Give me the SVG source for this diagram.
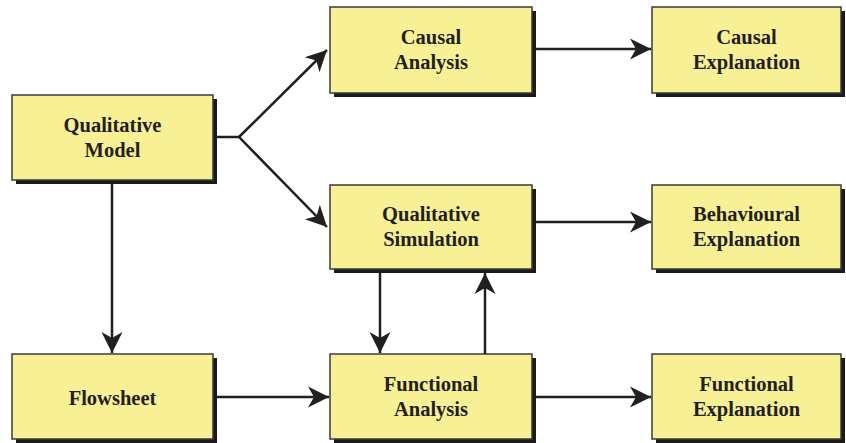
<svg xmlns="http://www.w3.org/2000/svg" width="846" height="443" viewBox="0 0 846 443">
<style>
.box{fill:#f8f094;stroke:#3a3a3a;stroke-width:1.5}
.sh{fill:#1a1a1a}
.t{font-family:"Liberation Serif","Times New Roman",serif;font-weight:bold;font-size:20.5px;fill:#231f20;text-anchor:middle}
.c{fill:none;stroke:#231f20;stroke-width:2.5}
</style>
<defs>
<marker id="ah" markerUnits="userSpaceOnUse" markerWidth="24" markerHeight="24" viewBox="-22 -12 24 24" refX="0" refY="0" orient="auto">
<path d="M0,0 L-21,-10.5 L-15,0 L-21,10.5 Z" fill="#231f20"/>
</marker>
</defs>
<g id="qualitative-model">
<rect class="sh" x="16" y="99" width="201" height="85"/>
<rect class="box" x="12" y="95" width="201" height="85"/>
<text class="t" x="112.5" y="132">Qualitative</text>
<text class="t" x="112.5" y="157">Model</text>
</g>
<g id="causal-analysis">
<rect class="sh" x="334" y="11" width="202" height="86"/>
<rect class="box" x="330" y="7" width="202" height="86"/>
<text class="t" x="431" y="44">Causal</text>
<text class="t" x="431" y="69">Analysis</text>
</g>
<g id="causal-explanation">
<rect class="sh" x="656" y="11" width="189" height="86"/>
<rect class="box" x="652" y="7" width="189" height="86"/>
<text class="t" x="746.5" y="44">Causal</text>
<text class="t" x="746.5" y="69">Explanation</text>
</g>
<g id="qualitative-simulation">
<rect class="sh" x="334" y="189" width="202" height="84"/>
<rect class="box" x="330" y="185" width="202" height="84"/>
<text class="t" x="431" y="221">Qualitative</text>
<text class="t" x="431" y="246">Simulation</text>
</g>
<g id="behavioural-explanation">
<rect class="sh" x="656" y="189" width="189" height="84"/>
<rect class="box" x="652" y="185" width="189" height="84"/>
<text class="t" x="746.5" y="221">Behavioural</text>
<text class="t" x="746.5" y="246">Explanation</text>
</g>
<g id="flowsheet">
<rect class="sh" x="16" y="358" width="201" height="85"/>
<rect class="box" x="12" y="354" width="201" height="85"/>
<text class="t" x="112.5" y="405">Flowsheet</text>
</g>
<g id="functional-analysis">
<rect class="sh" x="334" y="358" width="202" height="85"/>
<rect class="box" x="330" y="354" width="202" height="85"/>
<text class="t" x="431" y="391">Functional</text>
<text class="t" x="431" y="416">Analysis</text>
</g>
<g id="functional-explanation">
<rect class="sh" x="656" y="358" width="189" height="85"/>
<rect class="box" x="652" y="354" width="189" height="85"/>
<text class="t" x="746.5" y="391">Functional</text>
<text class="t" x="746.5" y="416">Explanation</text>
</g>
<g id="connectors">
<path class="c" d="M217,137 L239,137"/>
<path class="c" d="M239,137 L327,50" marker-end="url(#ah)"/>
<path class="c" d="M239,137 L327,227" marker-end="url(#ah)"/>
<path class="c" d="M112,184 L112,353" marker-end="url(#ah)"/>
<path class="c" d="M217,397 L329,397" marker-end="url(#ah)"/>
<path class="c" d="M536,49 L651,49" marker-end="url(#ah)"/>
<path class="c" d="M536,222 L651,222" marker-end="url(#ah)"/>
<path class="c" d="M536,397 L651,397" marker-end="url(#ah)"/>
<path class="c" d="M380,273 L380,353" marker-end="url(#ah)"/>
<path class="c" d="M485,354 L485,273" marker-end="url(#ah)"/>
</g>
</svg>
